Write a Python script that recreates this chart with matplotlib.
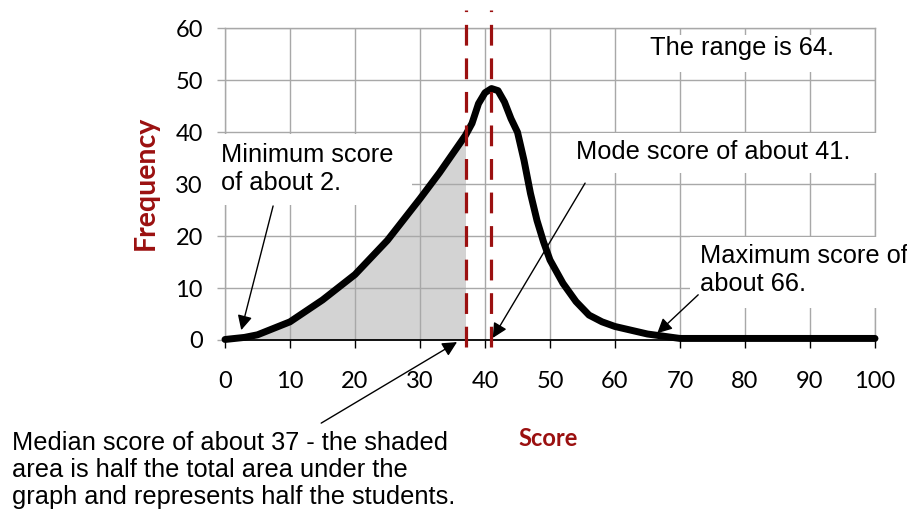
import matplotlib.pyplot as plt
from matplotlib.patches import Rectangle

# data
score = [0, 3, 5, 10, 15, 20, 25, 30, 33, 35, 37, 38, 39, 40, 41, 42, 43, 44, 45, 46, 47,
         48, 49, 50, 52, 54, 56, 58, 60, 65, 70, 80, 90, 100]
frequency = [0.1, 0.5, 1.0, 3.5, 7.7, 12.6, 19.2, 27.2, 32.2, 35.8, 39.4, 41.7, 45.5, 47.6,
             48.4, 48.0, 45.8, 42.6, 40.0, 34.6, 28.2, 23.0, 18.9, 15.4, 10.9, 7.4, 4.8,
             3.5, 2.6, 1.15, 0.3, 0.3, 0.3, 0.3]
median = 37
mode = 41
x_ticks = list(range(0, 101, 10))
y_ticks = list(range(0, 61, 10))

red = "#9b1010"
grid_gray = "#a8a8a8"
tick_font = "Lato"
note_font = "Liberation Sans"
note_size = 18.3

fig = plt.figure(figsize=(9.07, 5.11), dpi=100)
ax = fig.add_axes([225 / 907, 1 - 340 / 511, 650 / 907, (340 - 28.3) / 511])
ax.set_xlim(0, 100)
ax.set_ylim(0, 60)
ax.set_xticks(x_ticks)
ax.set_yticks(y_ticks)
ax.grid(True, color=grid_gray, lw=1.0)
ax.set_axisbelow(True)

for side in ["left", "top", "right"]:
    ax.spines[side].set_color(grid_gray)
    ax.spines[side].set_linewidth(1.0)
ax.spines["bottom"].set_color("black")
ax.spines["bottom"].set_linewidth(1.3)

ax.tick_params(axis="x", length=6, width=1.0, color="black", pad=16)
ax.tick_params(axis="y", length=6, width=1.0, color=grid_gray, pad=10)
for lab in ax.get_xticklabels() + ax.get_yticklabels():
    lab.set_fontfamily(tick_font)
    lab.set_fontsize(17)

# shaded half (up to the median)
sx = [s for s in score if s <= median]
sy = frequency[:len(sx)]
ax.fill_between(sx, 0, sy, color="#d3d3d3", lw=0, zorder=0.3)

ax.plot(score, frequency, color="black", lw=5, solid_joinstyle="round",
        solid_capstyle="round", zorder=3, clip_on=False)

for v in [median, mode]:
    ax.plot([v, v], [-1.3, 63.5], color=red, lw=2.3, dashes=(6.5, 4),
            zorder=4, clip_on=False)

# white boxes behind the notes (they hide the grid)
for (x0, y0, w, h) in [(63.8, 51.5, 34.0, 7.2), (53.1, 32.1, 47.7, 7.7),
                       (-1.3, 26.0, 30.1, 13.6), (71.5, 6.2, 34.0, 13.6)]:
    ax.add_patch(Rectangle((x0, y0), w, h, fc="white", ec="none", zorder=2.6,
                           clip_on=False))

ax.text(65.4, 56.2, "The range is 64.", fontsize=note_size, family=note_font,
        va="center", ha="left", zorder=2.7)
ax.text(54.0, 36.2, "Mode score of about 41.", fontsize=note_size, family=note_font,
        va="center", ha="left", zorder=2.7)
ax.text(-0.6, 32.9, "Minimum score\nof about 2.", fontsize=note_size, family=note_font,
        va="center", ha="left", linespacing=1.18, zorder=2.7)
ax.text(73.0, 13.5, "Maximum score of\nabout 66.", fontsize=note_size, family=note_font,
        va="center", ha="left", linespacing=1.18, zorder=2.7, clip_on=False)
fig.text(12 / 907, 1 - 470 / 511,
         "Median score of about 37 - the shaded\narea is half the total area under the\n"
         "graph and represents half the students.",
         fontsize=note_size, family=note_font, va="center", ha="left", linespacing=1.18)

arrow = dict(arrowstyle="-|>", color="black", lw=1.0, mutation_scale=22,
             shrinkA=0, shrinkB=0)
ax.annotate("", xy=(2.5, 1.9), xytext=(7.4, 25.8), arrowprops=arrow, zorder=5)
ax.annotate("", xy=(41.2, 0.4), xytext=(55.4, 30.2), arrowprops=arrow, zorder=5)
ax.annotate("", xy=(66.5, 1.3), xytext=(72.8, 8.7), arrowprops=arrow, zorder=5)
ax.annotate("", xy=(35.7, -0.4), xytext=(14.8, -16.0), arrowprops=arrow,
            zorder=5, annotation_clip=False)

fig.text(146 / 907, 1 - 183 / 511, "Frequency", rotation=90, color=red,
         fontsize=20.5, fontweight="bold", family=tick_font, ha="center", va="center")
fig.text(548 / 907, 1 - 438 / 511, "Score", color=red, fontsize=17,
         fontweight="bold", family=tick_font, ha="center", va="center")

fig.savefig("out.png", dpi=100)
